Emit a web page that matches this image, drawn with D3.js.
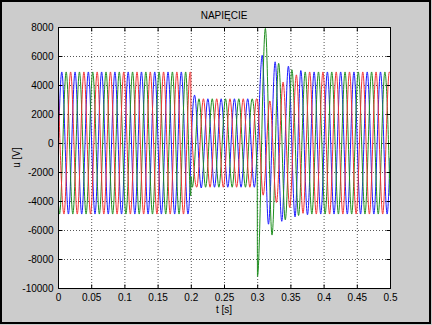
<!DOCTYPE html>
<html>
<head>
<meta charset="utf-8">
<script src="https://cdn.jsdelivr.net/npm/d3@7"></script>
<style>
  body { margin: 0; background: #cccccc; }
  svg { display: block; font-family: "Liberation Sans", Arial, sans-serif; }
  .tick text { font-size: 10px; fill: #000; }
  .tick line { stroke: #000; }
  .grid line { stroke: #555; stroke-dasharray: 1,2; }
</style>
</head>
<body>
<svg id="chart" width="432" height="325"></svg>
<script>
const title = "NAPIĘCIE";
const xLabel = "t [s]";
const yLabel = "u [V]";
const xTicks = [0, 0.05, 0.1, 0.15, 0.2, 0.25, 0.3, 0.35, 0.4, 0.45, 0.5];
const yTicks = [-10000, -8000, -6000, -4000, -2000, 0, 2000, 4000, 6000, 8000];

// extrema [t, u] for each phase
const phaseBlue = [
  [0, -1020],
  [0.0057, 4900], [0.0157, -4900], [0.0257, 4900], [0.0357, -4900], [0.0457, 4900],
  [0.0557, -4900], [0.0657, 4900], [0.0757, -4900], [0.0857, 4900], [0.0957, -4900],
  [0.1057, 4900], [0.1157, -4900], [0.1257, 4900], [0.1357, -4900], [0.1457, 4900],
  [0.1557, -4900], [0.1657, 4900], [0.1757, -4900], [0.1857, 4900], [0.1957, -4900],
  [0.2, -1100], [0.2002, -650],
  [0.2057, 3300], [0.2157, -3100], [0.2257, 3050], [0.2357, -3050], [0.2457, 3050],
  [0.2557, -3050], [0.2657, 3050], [0.2757, -3050], [0.2857, 3050], [0.2957, -3050],
  [0.3, -650],
  [0.3075, 6050], [0.317, -5600], [0.327, 5600], [0.337, -5400], [0.347, 5300],
  [0.357, -5100], [0.3657, 5000], [0.3757, -4950],
  [0.3857, 4900], [0.3957, -4900], [0.4057, 4900], [0.4157, -4900], [0.4257, 4900],
  [0.4357, -4900], [0.4457, 4900], [0.4557, -4900], [0.4657, 4900], [0.4757, -4900],
  [0.4857, 4900], [0.4957, -4900], [0.5, -1020]
];
const phaseGreen = [
  [0, -3640],
  [0.0023, -4900], [0.0123, 4900], [0.0223, -4900], [0.0323, 4900], [0.0423, -4900],
  [0.0523, 4900], [0.0623, -4900], [0.0723, 4900], [0.0823, -4900], [0.0923, 4900],
  [0.1023, -4900], [0.1123, 4900], [0.1223, -4900], [0.1323, 4900], [0.1423, -4900],
  [0.1523, 4900], [0.1623, -4900], [0.1723, 4900], [0.1823, -4900], [0.1923, 4900],
  [0.2, -3640], [0.2002, -2300],
  [0.2023, -3050], [0.2123, 3050], [0.2223, -3050], [0.2323, 3050], [0.2423, -3050],
  [0.2523, 3050], [0.2623, -3050], [0.2723, 3050], [0.2823, -3050], [0.2923, 3050],
  [0.3, -2300], [0.3004, -9200],
  [0.3123, 7900], [0.3223, -6350], [0.3323, 5500], [0.3423, -5300], [0.3523, 5050],
  [0.3623, -5000],
  [0.3723, 4900], [0.3823, -4900], [0.3923, 4900], [0.4023, -4900], [0.4123, 4900],
  [0.4223, -4900], [0.4323, 4900], [0.4423, -4900], [0.4523, 4900], [0.4623, -4900],
  [0.4723, 4900], [0.4823, -4900], [0.4923, 4900], [0.5, -3640]
];
const phaseRed = [
  [0, 4650],
  [0.009, -4900], [0.019, 4900], [0.029, -4900], [0.039, 4900], [0.049, -4900],
  [0.059, 4900], [0.069, -4900], [0.079, 4900], [0.089, -4900], [0.099, 4900],
  [0.109, -4900], [0.119, 4900], [0.129, -4900], [0.139, 4900], [0.149, -4900],
  [0.159, 4900], [0.169, -4900], [0.179, 4900], [0.189, -4900], [0.199, 4900],
  [0.2, 4850], [0.2002, 2300],
  [0.209, -3050], [0.219, 3050], [0.229, -3050], [0.239, 3050], [0.249, -3050],
  [0.259, 3050], [0.269, -3050], [0.279, 3050], [0.289, -3050], [0.299, 3050],
  [0.3, 3000],
  [0.309, -3600], [0.319, 2900], [0.329, -4100], [0.339, 4200], [0.349, -4450],
  [0.359, 4700], [0.369, -4850],
  [0.379, 4900], [0.389, -4900], [0.399, 4900], [0.409, -4900], [0.419, 4900],
  [0.429, -4900], [0.439, 4900], [0.449, -4900], [0.459, 4900], [0.469, -4900],
  [0.479, 4900], [0.489, -4900], [0.499, 4900], [0.5, 4850]
];

const series = [
  { values: phaseBlue, color: "#1a1aff" },
  { values: phaseGreen, color: "#1f8f1f" },
  { values: phaseRed, color: "#f23333" }
];

const svg = d3.select("#chart");
const W = 432, H = 325;
const margin = { left: 58, right: 42, top: 27, bottom: 37 };
const x0 = margin.left, x1 = W - margin.right;
const y0 = margin.top, y1 = H - margin.bottom;

const x = d3.scaleLinear().domain([0, 0.5]).range([x0, x1]);
const y = d3.scaleLinear().domain([-10000, 8000]).range([y1, y0]);

// figure background + frame
svg.append("rect").attr("width", W).attr("height", H).attr("fill", "#cccccc");
svg.append("rect")
  .attr("x", 1).attr("y", 1).attr("width", W - 3).attr("height", H - 3)
  .attr("fill", "none").attr("stroke", "#000").attr("stroke-width", 2);

// plot area
svg.append("rect")
  .attr("x", x0).attr("y", y0).attr("width", x1 - x0).attr("height", y1 - y0)
  .attr("fill", "#fff");

// grid
const grid = svg.append("g").attr("class", "grid");
grid.selectAll("line.gx")
  .data(xTicks.slice(1, -1))
  .enter().append("line")
  .attr("x1", d => x(d) + 0.5).attr("x2", d => x(d) + 0.5)
  .attr("y1", y0).attr("y2", y1);
grid.selectAll("line.gy")
  .data(yTicks.slice(1, -1))
  .enter().append("line")
  .attr("y1", d => y(d) + 0.5).attr("y2", d => y(d) + 0.5)
  .attr("x1", x0).attr("x2", x1);

// curves
svg.append("clipPath").attr("id", "clip")
  .append("rect").attr("x", x0).attr("y", y0).attr("width", x1 - x0).attr("height", y1 - y0);

const line = d3.line()
  .x(d => x(d[0]))
  .y(d => y(d[1]))
  .curve(d3.curveMonotoneX);

svg.append("g").attr("clip-path", "url(#clip)")
  .selectAll("path")
  .data(series)
  .enter().append("path")
  .attr("fill", "none")
  .attr("stroke", d => d.color)
  .attr("stroke-width", 1)
  .attr("d", d => line(d.values));

// axes (ticks inside like matlab)
const fmt = d => String(d);
svg.append("g")
  .attr("transform", `translate(0,${y1 + 0.5})`)
  .call(d3.axisBottom(x).tickValues(xTicks).tickSize(-4).tickPadding(5).tickFormat(fmt))
  .call(g => g.select(".domain").remove());
svg.append("g")
  .attr("transform", `translate(${x0 + 0.5},0)`)
  .call(d3.axisLeft(y).tickValues(yTicks).tickSize(-4).tickPadding(5).tickFormat(fmt))
  .call(g => g.select(".domain").remove());
svg.append("g")
  .attr("transform", `translate(0,${y0 + 0.5})`)
  .call(d3.axisTop(x).tickValues(xTicks).tickSize(-4).tickFormat(""))
  .call(g => g.select(".domain").remove());
svg.append("g")
  .attr("transform", `translate(${x1 + 0.5},0)`)
  .call(d3.axisRight(y).tickValues(yTicks).tickSize(-4).tickFormat(""))
  .call(g => g.select(".domain").remove());

svg.selectAll(".tick text").attr("font-size", 10).attr("font-family", null);

// axes box
svg.append("rect")
  .attr("x", x0 + 0.5).attr("y", y0 + 0.5).attr("width", x1 - x0).attr("height", y1 - y0)
  .attr("fill", "none").attr("stroke", "#000").attr("stroke-width", 1);

// labels
svg.append("text")
  .attr("x", (x0 + x1) / 2).attr("y", 18.5)
  .attr("text-anchor", "middle").attr("font-size", 10)
  .text(title);
svg.append("text")
  .attr("x", (x0 + x1) / 2).attr("y", 313)
  .attr("text-anchor", "middle").attr("font-size", 10)
  .text(xLabel);
svg.append("text")
  .attr("transform", `translate(20,${(y0 + y1) / 2}) rotate(-90)`)
  .attr("text-anchor", "middle").attr("font-size", 10)
  .text(yLabel);
</script>
</body>
</html>
